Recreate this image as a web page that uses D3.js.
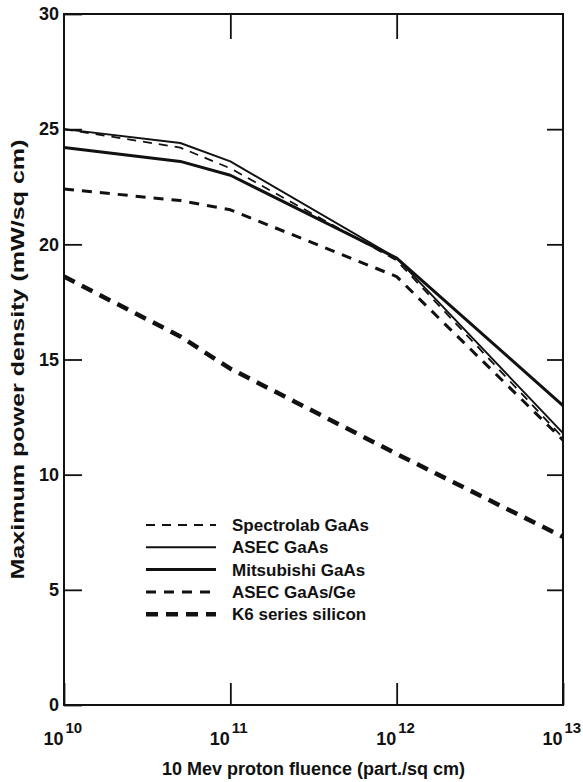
<!DOCTYPE html>
<html>
<head>
<meta charset="utf-8">
<script src="https://cdn.jsdelivr.net/npm/d3@7"></script>
<style>
  body { margin: 0; background: #fff; }
  svg text { font-family: "Liberation Sans", Arial, sans-serif; font-weight: bold; fill: #111; }
</style>
</head>
<body>
<div id="svg-container"></div>
<script>
let w = 583;
let h = 782;

// 10 MeV proton fluence (part./sq cm)
let fluence = [1e10, 5e10, 1e11, 1e12, 1e13];

// maximum power density (mW/sq cm)
let spectrolabGaAs = [25.0, 24.2, 23.3, 19.3, 11.6];
let asecGaAs = [25.0, 24.4, 23.6, 19.4, 11.8];
let mitsubishiGaAs = [24.2, 23.6, 23.0, 19.4, 13.0];
let asecGaAsGe = [22.4, 21.9, 21.5, 18.6, 11.5];
let k6Silicon = [18.6, 16.0, 14.6, 10.9, 7.3];

let seriesNames = ['Spectrolab GaAs', 'ASEC GaAs', 'Mitsubishi GaAs', 'ASEC GaAs/Ge', 'K6 series silicon'];
let yTicks = [0, 5, 10, 15, 20, 25, 30];
let xTicks = [1e10, 1e11, 1e12, 1e13];

let series = [
  { name: seriesNames[0], values: spectrolabGaAs, width: 1.8, dash: '9,7' },
  { name: seriesNames[1], values: asecGaAs, width: 1.9, dash: null },
  { name: seriesNames[2], values: mitsubishiGaAs, width: 3, dash: null },
  { name: seriesNames[3], values: asecGaAsGe, width: 3, dash: '10,8' },
  { name: seriesNames[4], values: k6Silicon, width: 4.5, dash: '12,8' }];

let pLeft = 64, pRight = 563, pTop = 14, pBottom = 705;

let svg = d3.select('#svg-container').
append('svg').
attr('width', w).
attr('height', h);

let x = d3.scaleLog().
domain([1e10, 1e13]).
range([pLeft, pRight]);

let y = d3.scaleLinear().
domain([0, 30]).
range([pBottom, pTop]);

// frame
svg.append('rect').
attr('x', pLeft).
attr('y', pTop).
attr('width', pRight - pLeft).
attr('height', pBottom - pTop).
attr('fill', 'none').
attr('stroke', '#111').
attr('stroke-width', 2);

// left axis, ticks pointing in
let yAxis = svg.append('g').
attr('transform', 'translate(' + pLeft + ',0)').
call(d3.axisLeft(y).tickValues(yTicks).tickSize(-18).tickPadding(5));
yAxis.select('.domain').remove();
yAxis.selectAll('line').attr('stroke', '#111').attr('stroke-width', 1.8);
yAxis.selectAll('text').
style('font-size', '18px').
attr('fill', '#111');

// right axis, ticks only
let yAxisR = svg.append('g').
attr('transform', 'translate(' + pRight + ',0)').
call(d3.axisRight(y).tickValues(yTicks.slice(1, -1)).tickSize(-16).tickFormat(''));
yAxisR.select('.domain').remove();
yAxisR.selectAll('line').attr('stroke', '#111').attr('stroke-width', 1.8);

// bottom axis
let xAxis = svg.append('g').
attr('transform', 'translate(0,' + pBottom + ')').
call(d3.axisBottom(x).tickValues(xTicks).tickSize(-22).tickFormat(''));
xAxis.select('.domain').remove();
xAxis.selectAll('line').attr('stroke', '#111').attr('stroke-width', 1.8);

let tick = xAxis.selectAll('.tick');
tick.append('text').
attr('x', -1).
attr('y', 40).
attr('text-anchor', 'end').
style('font-size', '18px').
text('10');
tick.append('text').
attr('x', 1).
attr('y', 28).
attr('text-anchor', 'start').
style('font-size', '15px').
text(d => Math.round(Math.log10(d)));

// top axis, ticks only
let xAxisT = svg.append('g').
attr('transform', 'translate(0,' + pTop + ')').
call(d3.axisTop(x).tickValues(xTicks.slice(1, -1)).tickSize(-25).tickFormat(''));
xAxisT.select('.domain').remove();
xAxisT.selectAll('line').attr('stroke', '#111').attr('stroke-width', 1.8);

// axis titles
svg.append('text').
attr('x', (pLeft + pRight) / 2).
attr('y', 775).
attr('text-anchor', 'middle').
style('font-size', '18px').
text('10 Mev proton fluence (part./sq cm)');

// the scanned y title is drawn long and narrow
svg.append('text').
attr('transform', 'translate(24,' + (pTop + pBottom) / 2 + ') rotate(-90)').
attr('text-anchor', 'middle').
attr('textLength', 440).
attr('lengthAdjust', 'spacingAndGlyphs').
style('font-size', '18px').
text('Maximum power density (mW/sq cm)');

// lines
let line = d3.line().
x((d, i) => x(fluence[i])).
y(d => y(d));

svg.selectAll('path.series').
data(series).
join('path').
attr('class', 'series').
attr('d', d => line(d.values)).
attr('fill', 'none').
attr('stroke', '#111').
attr('stroke-width', d => d.width).
attr('stroke-dasharray', d => d.dash).
attr('stroke-linejoin', 'round');

// legend
let legend = svg.append('g').
attr('transform', 'translate(146,525)');

let item = legend.selectAll('g').
data(series).
join('g').
attr('transform', (d, i) => 'translate(0,' + i * 22.3 + ')');

item.append('line').
attr('x1', 0).
attr('x2', 70).
attr('stroke', '#111').
attr('stroke-width', d => d.width).
attr('stroke-dasharray', d => d.dash);

item.append('text').
attr('x', 86).
attr('y', 6).
style('font-size', '17px').
text(d => d.name);
</script>
</body>
</html>
